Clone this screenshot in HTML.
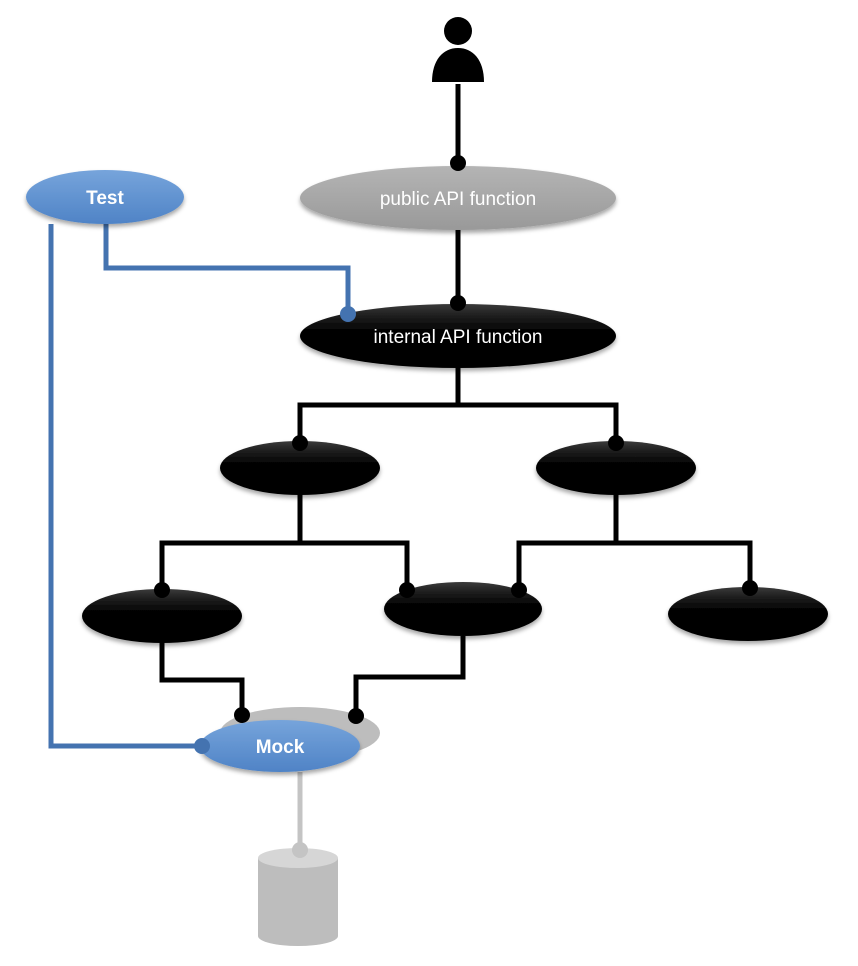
<!DOCTYPE html>
<html><head><meta charset="utf-8"><style>
html,body{margin:0;padding:0;background:#fff;}
svg{display:block;}
text{font-family:"Liberation Sans",sans-serif;}
</style></head><body>
<svg width="858" height="966" viewBox="0 0 858 966" xmlns="http://www.w3.org/2000/svg">
<defs>
<linearGradient id="blk" x1="0" y1="0" x2="0" y2="1">
<stop offset="0" stop-color="#3a3a3a"/><stop offset="0.2" stop-color="#1c1c1c"/><stop offset="0.45" stop-color="#000"/><stop offset="1" stop-color="#000"/></linearGradient>
<linearGradient id="gry" x1="0" y1="0" x2="0" y2="1">
<stop offset="0" stop-color="#b4b4b4"/><stop offset="1" stop-color="#999"/></linearGradient>
<linearGradient id="blu" x1="0" y1="0" x2="0" y2="1">
<stop offset="0" stop-color="#76a4db"/><stop offset="1" stop-color="#4f83c6"/></linearGradient>
<filter id="sh" x="-20%" y="-30%" width="140%" height="170%"><feDropShadow dx="0" dy="3" stdDeviation="2" flood-color="#000" flood-opacity="0.35"/></filter>
</defs>
<g fill="none" stroke-linejoin="miter">
<g stroke="#000" stroke-width="5">
<path d="M458 84 V163"/>
<path d="M458 230 V303"/>
<path d="M458 368 V405 H300 V443 M458 405 H616 V443"/>
<path d="M300 494 V543 H162 V590 M300 543 H407 V590"/>
<path d="M616 494 V543 H519 V590 M616 543 H750 V588"/>
<path d="M162 642 V680 H242 V715"/>
<path d="M463 636 V677 H356 V716"/>
</g>
<g stroke="#4473b0" stroke-width="5">
<path d="M106 224 V268 H348 V314"/>
<path d="M51 224 V746 H202"/>
</g>
<path d="M300 772 V850" stroke="#c4c4c4" stroke-width="5"/>
</g>

<circle cx="458" cy="31" r="14" fill="#000"/>
<path d="M432 82 C432 60 443 48 458 48 C473 48 484 60 484 82 Z" fill="#000"/>

<ellipse cx="458" cy="198" rx="158" ry="32" fill="url(#gry)" filter="url(#sh)"/>
<text x="458" y="205" fill="#fff" font-size="19" text-anchor="middle">public API function</text>
<ellipse cx="458" cy="336" rx="158" ry="32" fill="url(#blk)" filter="url(#sh)"/>
<text x="458" y="343" fill="#fff" font-size="19" text-anchor="middle">internal API function</text>

<ellipse cx="105" cy="197" rx="79" ry="27" fill="url(#blu)" filter="url(#sh)"/>
<text x="105" y="204" fill="#fff" font-size="19" font-weight="bold" text-anchor="middle">Test</text>

<ellipse cx="300" cy="468" rx="80" ry="27" fill="url(#blk)" filter="url(#sh)"/>
<ellipse cx="616" cy="468" rx="80" ry="27" fill="url(#blk)" filter="url(#sh)"/>
<ellipse cx="162" cy="616" rx="80" ry="27" fill="url(#blk)" filter="url(#sh)"/>
<ellipse cx="463" cy="609" rx="79" ry="27" fill="url(#blk)" filter="url(#sh)"/>
<ellipse cx="748" cy="614" rx="80" ry="27" fill="url(#blk)" filter="url(#sh)"/>

<ellipse cx="300" cy="733" rx="80" ry="26" fill="#bdbdbd"/>
<circle cx="242" cy="715" r="8" fill="#000"/>
<circle cx="356" cy="716" r="8" fill="#000"/>
<ellipse cx="280" cy="746" rx="80" ry="26" fill="url(#blu)" filter="url(#sh)"/>
<text x="280" y="753" fill="#fff" font-size="19" font-weight="bold" text-anchor="middle">Mock</text>

<path d="M258 858 V936 A40 10 0 0 0 338 936 V858 Z" fill="#bdbdbd"/>
<ellipse cx="298" cy="858" rx="40" ry="10" fill="#d6d6d6"/>
<circle cx="300" cy="850" r="8" fill="#c4c4c4"/>

<g fill="#000">
<circle cx="458" cy="163" r="8"/>
<circle cx="458" cy="303" r="8"/>
<circle cx="300" cy="443" r="8"/>
<circle cx="616" cy="443" r="8"/>
<circle cx="162" cy="590" r="8"/>
<circle cx="407" cy="590" r="8"/>
<circle cx="519" cy="590" r="8"/>
<circle cx="750" cy="588" r="8"/>
</g>
<circle cx="348" cy="314" r="8" fill="#4473b0"/>
<circle cx="202" cy="746" r="8" fill="#4473b0"/>
</svg>
</body></html>
